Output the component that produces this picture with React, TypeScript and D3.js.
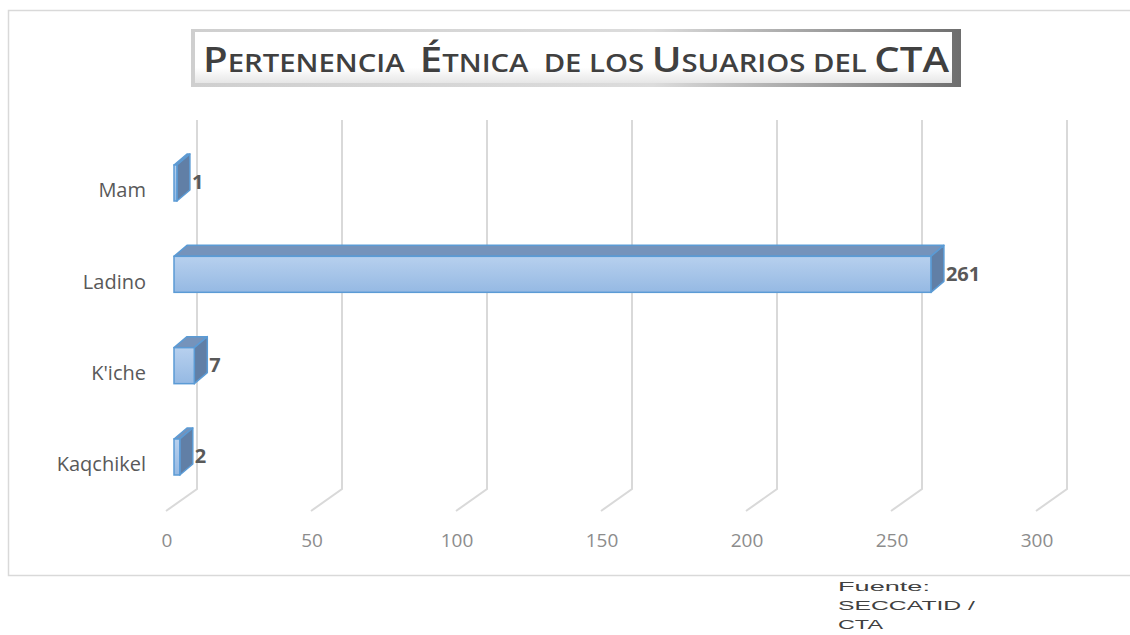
import React from "react";
import * as d3 from "d3";

const categories = ["Mam", "Ladino", "K'iche", "Kaqchikel"];
const values = [1, 261, 7, 2];
const ticks = [0, 50, 100, 150, 200, 250, 300];
const titleParts: [string, boolean][] = [
  ["P", true], ["ERTENENCIA", false], ["  ", false], ["É", true], ["TNICA", false],
  ["  ", false], ["DE LOS ", false], ["U", true], ["SUARIOS DEL ", false], ["CTA", true],
];
const sourceLines = ["Fuente:", "SECCATID /", "CTA"];
const sourceWidths = [92, 137, 45];

export default function App() {
  const W = 1130, H = 635;
  const xBack = d3.scaleLinear().domain([0, 300]).range([197, 1067]);
  const xBar = d3.scaleLinear().domain([0, 300]).range([174, 1044]);
  const y = d3.scalePoint<string>().domain(categories).range([183, 457]);
  const dOffX = -31, dOffY = 22;
  const backTop = 120, backBottom = 489;
  const bh = 36, sx = 13, sy = -11;
  const font = "'Open Sans', Lato, sans-serif";

  return (
    <svg width={W} height={H} style={{ position: "absolute", left: 0, top: 0 }}>
      <defs>
        <linearGradient id="front" x1="0" y1="0" x2="0" y2="1">
          <stop offset="0" stopColor="#b7d0ee" />
          <stop offset="1" stopColor="#95b9e3" />
        </linearGradient>
        <linearGradient id="titleBg" x1="0" y1="0" x2="1" y2="0">
          <stop offset="0" stopColor="#cfcfcf" />
          <stop offset="0.6" stopColor="#dcdcdc" />
          <stop offset="1" stopColor="#6e6e6e" />
        </linearGradient>
        <linearGradient id="titleIn" x1="0" y1="0" x2="0" y2="1">
          <stop offset="0" stopColor="#ffffff" />
          <stop offset="0.7" stopColor="#ffffff" />
          <stop offset="1" stopColor="#e6e6e6" />
        </linearGradient>
      </defs>
      <rect x={0} y={0} width={W} height={H} fill="#fff" />
      <rect x={8.5} y={10.5} width={1140} height={565} fill="#fff" stroke="#d9d9d9" strokeWidth={1.5} />

      {ticks.map((t) => {
        const bx = xBack(t);
        return (
          <g key={t}>
            <polyline
              points={`${bx},${backTop} ${bx},${backBottom} ${bx + dOffX},${backBottom + dOffY}`}
              fill="none" stroke="#d9d9d9" strokeWidth={2}
            />
            <text x={bx + dOffX + 1} y={547} textAnchor="middle" fontFamily={font} fontSize={19} fill="#8c8c8c">
              {t}
            </text>
          </g>
        );
      })}

      {categories.map((c, i) => {
        const v = values[i];
        const cy = y(c)!;
        const x0 = xBar(0), x1 = xBar(v);
        const top = cy - bh / 2, bot = cy + bh / 2;
        return (
          <g key={c}>
            <path d={`M${x0},${top} L${x0 + sx},${top + sy} L${x1 + sx},${top + sy} L${x1},${top} Z`}
              fill="#7593bb" stroke="#5b9bd5" strokeWidth={1.5} strokeLinejoin="round" />
            <path d={`M${x1},${top} L${x1 + sx},${top + sy} L${x1 + sx},${bot + sy} L${x1},${bot} Z`}
              fill="#617fa6" stroke="#5b9bd5" strokeWidth={1.5} strokeLinejoin="round" />
            <rect x={x0} y={top} width={x1 - x0} height={bh} fill="url(#front)" stroke="#5b9bd5" strokeWidth={1.5} />
            <text x={146} y={cy + 9} textAnchor="end" dominantBaseline="middle" fontFamily={font} fontSize={20} fill="#595959">
              {c}
            </text>
            <text x={x1 + sx + 2} y={cy + 1} dominantBaseline="middle" fontFamily={font} fontWeight="bold" fontSize={20} fill="#595959">
              {v}
            </text>
          </g>
        );
      })}

      <rect x={191} y={29} width={770} height={58} fill="url(#titleBg)" />
      <rect x={195} y={32} width={757} height={51} fill="url(#titleIn)" />
      <text x={203} y={72} fontFamily={font} fontWeight={600} fill="#404040" textLength={746} lengthAdjust="spacingAndGlyphs">
        {titleParts.map(([s, big], i) => (
          <tspan key={i} fontSize={big ? 35 : 25.5} style={{ whiteSpace: "pre" }}>{s}</tspan>
        ))}
      </text>

      {sourceLines.map((s, i) => (
        <text key={i} x={838} y={591 + i * 19} fontFamily="'Liberation Sans', Arial, sans-serif" fontSize={13}
          textLength={sourceWidths[i]} lengthAdjust="spacingAndGlyphs" fill="#404040">
          {s}
        </text>
      ))}
    </svg>
  );
}
